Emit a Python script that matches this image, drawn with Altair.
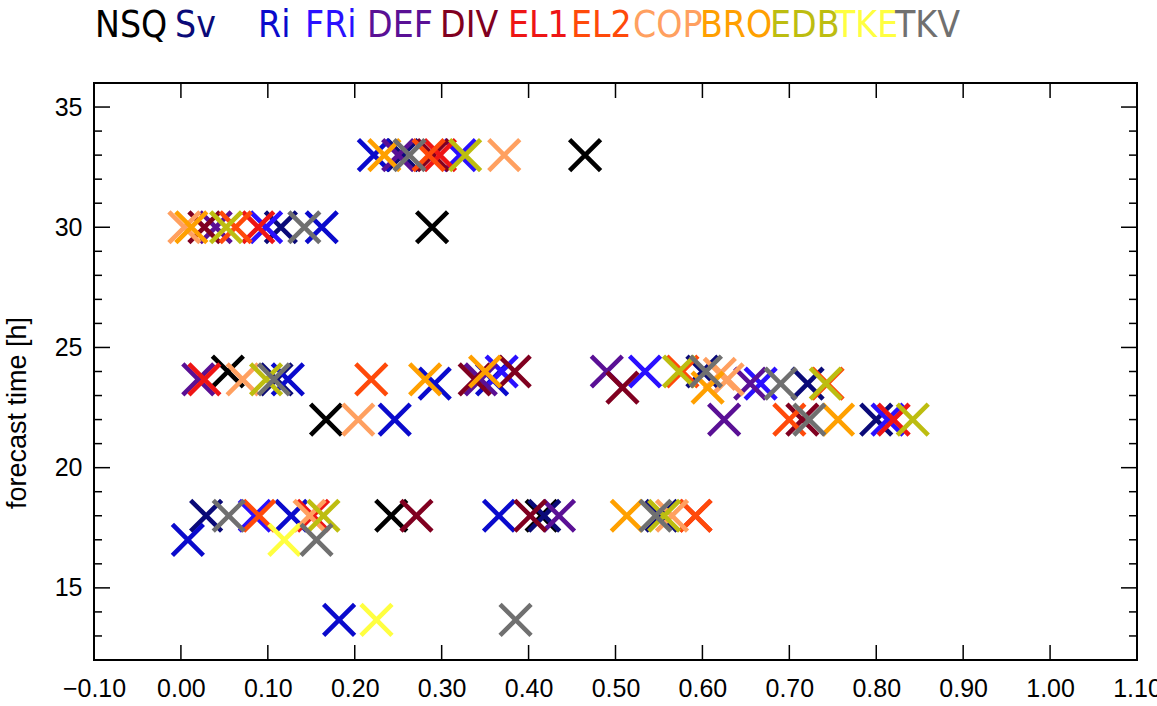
import altair as alt
import pandas as pd

# Scores per measure: x = score, t = forecast time [h]
measures = ["NSQ", "Sv", "Ri", "FRi", "DEF", "DIV", "EL1", "EL2",
            "COP", "BRO", "EDB", "TKE", "TKV"]
colours = ["#000000", "#0a0a78", "#0a0acc", "#2a10ff", "#5a1095", "#800020",
           "#ee1515", "#ff4a0a", "#ffa060", "#ffa000", "#bdbd10", "#ffff40",
           "#707070"]

nsq_x = [0.465, 0.289, 0.054, 0.167, 0.242, 0.415]
nsq_t = [33, 30, 24, 22, 18, 18]

sv_x = [0.255, 0.115, 0.110, 0.600, 0.721, 0.800, 0.029, 0.418, 0.553]
sv_t = [33, 30, 23.67, 24, 23.5, 22, 18, 18, 18]

ri_x = [0.222, 0.162, 0.123, 0.292, 0.358, 0.246, 0.127, 0.366, 0.008, 0.182]
ri_t = [33, 30, 23.67, 23.5, 23.67, 22, 18, 18, 17, 13.67]

fri_x = [0.321, 0.098, 0.369, 0.534, 0.667, 0.813, 0.085]
fri_t = [33, 30, 24, 24, 23.5, 22, 18]

def_x = [0.250, 0.040, 0.020, 0.345, 0.490, 0.655, 0.625, 0.435]
def_t = [33, 30, 23.67, 23.67, 24, 23.5, 22, 18]

div_x = [0.290, 0.027, 0.338, 0.384, 0.508, 0.715, 0.271, 0.402]
div_t = [33, 30, 23.67, 24, 23.33, 22, 18, 18]

el1_x = [0.298, 0.089, 0.027, 0.820, 0.152, 0.592]
el1_t = [33, 30, 23.67, 22, 18, 18]

el2_x = [0.285, 0.063, 0.219, 0.577, 0.744, 0.700, 0.090, 0.592]
el2_t = [33, 30, 23.67, 24, 23.5, 22, 18, 18]

cop_x = [0.372, 0.004, 0.071, 0.620, 0.629, 0.204, 0.148, 0.565]
cop_t = [33, 30, 23.67, 23.9, 23.67, 22, 18, 18]

bro_x = [0.234, 0.012, 0.281, 0.350, 0.606, 0.756, 0.513]
bro_t = [33, 30, 23.67, 24, 23.33, 22, 18]

edb_x = [0.327, 0.052, 0.098, 0.573, 0.742, 0.842, 0.164, 0.556]
edb_t = [33, 30, 23.67, 24, 23.5, 22, 18, 18]

tke_x = [0.119, 0.225]
tke_t = [17, 13.67]

tkv_x = [0.263, 0.142, 0.107, 0.604, 0.690, 0.723, 0.055, 0.546, 0.156, 0.385]
tkv_t = [33, 30, 23.67, 24, 23.5, 22, 18, 18, 17, 13.67]

series_x = [nsq_x, sv_x, ri_x, fri_x, def_x, div_x, el1_x, el2_x,
            cop_x, bro_x, edb_x, tke_x, tkv_x]
series_t = [nsq_t, sv_t, ri_t, fri_t, def_t, div_t, el1_t, el2_t,
            cop_t, bro_t, edb_t, tke_t, tkv_t]

x_ticks = [-0.1, 0.0, 0.1, 0.2, 0.3, 0.4, 0.5, 0.6, 0.7, 0.8, 0.9, 1.0, 1.1]
y_major = [15, 20, 25, 30, 35]
y_minor = [13, 14, 16, 17, 18, 19, 21, 22, 23, 24, 26, 27, 28, 29,
           31, 32, 33, 34]
y_title = "forecast time [h]"

rows = []
for name, xs, ts in zip(measures, series_x, series_t):
    for xv, tv in zip(xs, ts):
        rows.append({"measure": name, "score": xv, "t": tv, "n": len(rows)})
df = pd.DataFrame(rows)

# ---- layout ----
W, H = 1043, 577
FONT = "Liberation Sans"
xscale = alt.Scale(domain=[-0.1, 1.1], nice=False, zero=False)
yscale = alt.Scale(domain=[12, 36], nice=False, zero=False)
XSHAPE = "M-1,-1L1,1M-1,1L1,-1"

xaxis = alt.Axis(values=x_ticks, format=".2f", title=None,
                 ticks=False, domain=False, grid=False,
                 labelFont=FONT, labelFontSize=25,
                 labelColor="black", labelPadding=16,
                 labelOverlap=False, labelFlush=False, labelBound=False)
yaxis = alt.Axis(values=y_major, format="d", title=None,
                 ticks=False, domain=False, grid=False,
                 labelFont=FONT, labelFontSize=25,
                 labelColor="black", labelPadding=12)

points = alt.Chart(df).mark_point(
    shape=XSHAPE, size=960, filled=False, strokeWidth=4.6, opacity=1
).encode(
    x=alt.X("score:Q", scale=xscale, axis=xaxis),
    y=alt.Y("t:Q", scale=yscale, axis=yaxis),
    color=alt.Color("measure:N", scale=alt.Scale(domain=measures,
                                                 range=colours),
                    legend=None),
    order=alt.Order("n:Q"),
)

# inward tick marks on all four sides
xt = pd.DataFrame({"score": x_ticks})
ymaj = pd.DataFrame({"t": y_major})
ymin = pd.DataFrame({"t": y_minor})
tick_style = dict(color="black", strokeWidth=1.5)

def xtick(y0, y1):
    return alt.Chart(xt).mark_rule(**tick_style).encode(
        x=alt.X("score:Q", scale=xscale, axis=xaxis),
        y=alt.value(y0), y2=alt.value(y1))

def ytick(data, x0, x1):
    return alt.Chart(data).mark_rule(**tick_style).encode(
        y=alt.Y("t:Q", scale=yscale, axis=yaxis),
        x=alt.value(x0), x2=alt.value(x1))

ticks = [
    xtick(H, H - 15), xtick(0, 15),
    ytick(ymaj, 0, 16), ytick(ymaj, W - 16, W),
    ytick(ymin, 0, 8), ytick(ymin, W - 8, W),
]

# rotated y-axis title
ytitle = alt.Chart(pd.DataFrame({"s": [y_title]})).mark_text(
    angle=270, align="center", baseline="middle", fontSize=27,
    font=FONT, color="black"
).encode(text="s:N", x=alt.value(-76), y=alt.value(330))

# coloured measure names above the frame
legend_left = [1, 81, 164, 211, 273, 346, 414, 477, 539, 606, 676, 741, 801]
leg = pd.DataFrame({"name": measures, "c": colours, "px": legend_left})
legend = alt.Chart(leg).mark_text(
    align="left", baseline="alphabetic", fontSize=37,
    font="Liberation Sans Narrow, DejaVu Sans Condensed, Liberation Sans"
).encode(
    x=alt.X("px:Q", scale=None),
    y=alt.value(-46),
    text="name:N",
    color=alt.Color("c:N", scale=None),
)

chart = alt.layer(points, *ticks, ytitle, legend).properties(
    width=W, height=H,
    autosize=alt.AutoSizeParams(type="none"),
    padding={"left": 94, "top": 83, "right": 20, "bottom": 46},
    background="white",
).configure_view(stroke="black", strokeWidth=2)

chart.save("out.html", embed_options={"renderer": "svg", "actions": False})
